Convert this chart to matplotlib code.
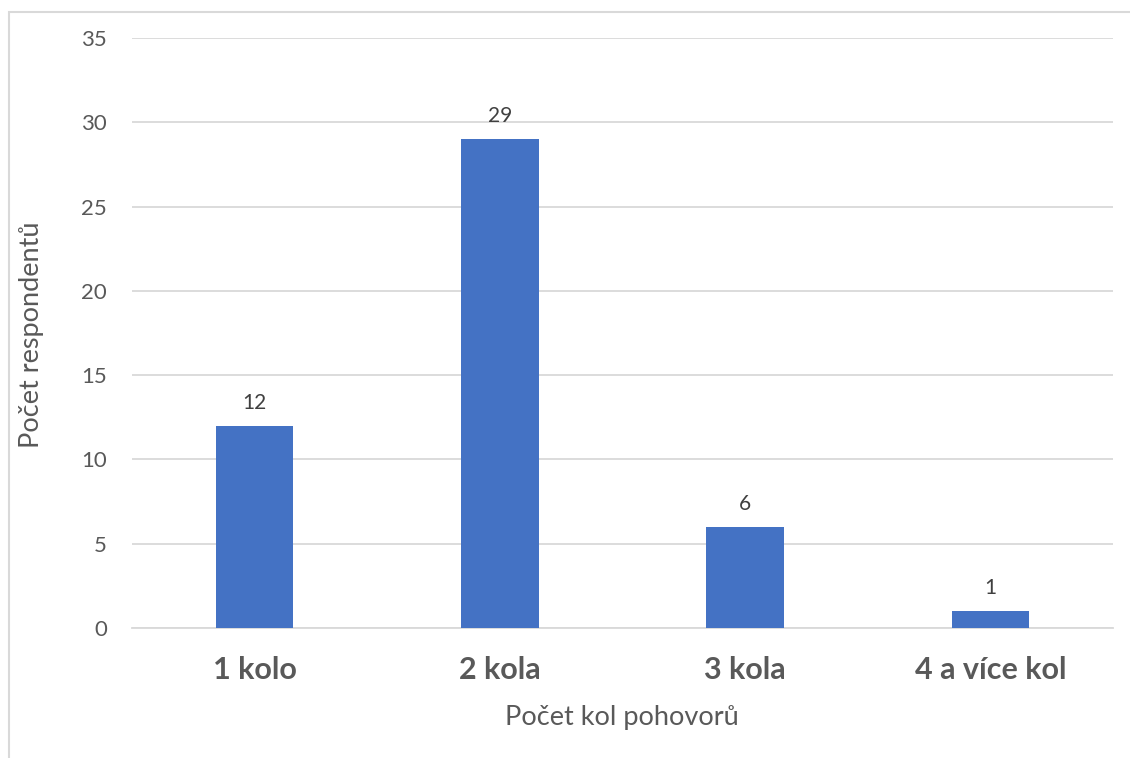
import matplotlib.pyplot as plt
from matplotlib.patches import Rectangle

plt.rcParams['font.family'] = ['Lato', 'DejaVu Sans']

# Počet kol pohovorů a počet respondentů
categories = ['1 kolo', '2 kola', '3 kola', '4 a více kol']
counts = [12, 29, 6, 1]
yticks = [0, 5, 10, 15, 20, 25, 30, 35]

fig = plt.figure(figsize=(11.3, 7.58), dpi=100)
ax = fig.add_axes([132 / 1130, 130 / 758, 981 / 1130, 590 / 758])

x = range(len(categories))
bars = ax.bar(x, counts, width=0.315, color='#4472C4', zorder=3)

for rect, val in zip(bars, counts):
    ax.text(rect.get_x() + rect.get_width() / 2, val + 0.75, str(val),
            ha='center', va='bottom', fontsize=15, color='#404040')

ax.set_xlim(-0.5, len(categories) - 0.5)
ax.set_ylim(0, 35)
ax.set_yticks(yticks)
ax.set_xticks(list(x))
ax.set_xticklabels(categories, fontsize=22, fontweight='bold', color='#595959')
ax.tick_params(axis='y', labelsize=16, labelcolor='#595959', length=0, pad=18)
ax.tick_params(axis='x', length=0, pad=20)

ax.grid(axis='y', color='#D9D9D9', linewidth=1.3, zorder=0)
for side in ['top', 'right', 'left']:
    ax.spines[side].set_visible(False)
ax.spines['bottom'].set_color('#D9D9D9')
ax.spines['bottom'].set_linewidth(1.3)

ax.set_xlabel('Počet kol pohovorů', fontsize=19.5, color='#595959', va='center')
ax.set_ylabel('Počet respondentů', fontsize=19.5, color='#595959', va='center')
ax.xaxis.set_label_coords(0.4995, -0.151)
ax.yaxis.set_label_coords(-0.102, 0.497)

# rámeček kolem grafu
fig.patches.append(Rectangle((9 / 1130, -0.1), 1.2, (758 - 12) / 758 + 0.1,
                             transform=fig.transFigure, fill=False,
                             edgecolor='#D9D9D9', linewidth=1.5))

fig.savefig('out.png', dpi=100)
